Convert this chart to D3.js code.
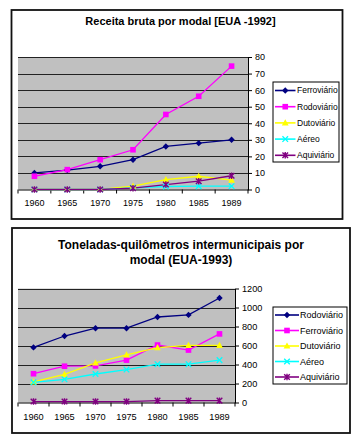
<!DOCTYPE html>
<html><head><meta charset="utf-8">
<script src="https://cdn.jsdelivr.net/npm/d3@7"></script>
<style>
body{margin:0;background:#fff;}
svg{display:block;font-family:Arial,"Liberation Sans",sans-serif;}
</style></head>
<body><svg id="c" width="364" height="442"></svg>
<script>
// ---------- Data ----------
const years = ["1960","1965","1970","1975","1980","1985","1989"];

// Chart 1: Receita bruta por modal [EUA -1992]
const c1Title = ["Receita bruta por modal [EUA -1992]"];
const c1Series = ["Ferroviário","Rodoviário","Dutoviário","Aéreo","Aquiviário"];
const c1Ferroviario = [10, 11.7, 14, 18, 26, 28, 30];
const c1Rodoviario  = [8, 12, 18, 24, 45.3, 56.3, 74.5];
const c1Dutoviario  = [0, 0, 0, 2, 6, 8, 5.7];
const c1Aereo       = [0, 0, 0, 1, 1.8, 2, 2];
const c1Aquiviario  = [0, 0, 0, 0.8, 3, 5, 8.3];
const c1Ticks = [0,10,20,30,40,50,60,70,80];

// Chart 2: Toneladas-quilômetros intermunicipais por modal (EUA-1993)
const c2Title = ["Toneladas-quilômetros intermunicipais por","modal (EUA-1993)"];
const c2Series = ["Rodoviário","Ferroviário","Dutoviário","Aéreo","Aquiviário"];
const c2Rodoviario  = [580, 700, 782, 782, 900, 922, 1100];
const c2Ferroviario = [303, 382, 385, 446, 605, 552, 722];
const c2Dutoviario  = [216, 297, 417, 502, 578, 602, 602];
const c2Aereo       = [212, 244, 300, 347, 403, 403, 446];
const c2Aquiviario  = [10, 10, 10, 10, 20, 20, 20];
const c2Ticks = [0,200,400,600,800,1000,1200];

const colors = ["#000080","#FF00FF","#FFFF00","#00FFFF","#800080"];
const markers = ["diamond","square","triangle","x","star"];

const svg = d3.select("#c");

function marker(g, type, color, x, y){
  if(type==="diamond"){
    g.append("path").attr("d",`M${x},${y-3.2}L${x+3.2},${y}L${x},${y+3.2}L${x-3.2},${y}Z`).attr("fill",color);
  } else if(type==="square"){
    g.append("rect").attr("x",x-2.8).attr("y",y-2.8).attr("width",5.6).attr("height",5.6).attr("fill",color);
  } else if(type==="triangle"){
    g.append("path").attr("d",`M${x},${y-3.6}L${x+3.4},${y+2.6}L${x-3.4},${y+2.6}Z`).attr("fill",color);
  } else if(type==="x"){
    g.append("path").attr("d",`M${x-2.8},${y-2.8}L${x+2.8},${y+2.8}M${x+2.8},${y-2.8}L${x-2.8},${y+2.8}`).attr("stroke",color).attr("stroke-width",1.3);
  } else {
    g.append("path").attr("d",`M${x-2.8},${y-2.8}L${x+2.8},${y+2.8}M${x+2.8},${y-2.8}L${x-2.8},${y+2.8}M${x},${y-3.2}L${x},${y+3.2}`).attr("stroke",color).attr("stroke-width",1.4);
  }
}

function drawChart(o){
  const g = svg.append("g");
  // frame
  g.append("rect").attr("x",o.frame[0]).attr("y",o.frame[1]).attr("width",o.frame[2]-o.frame[0]).attr("height",o.frame[3]-o.frame[1])
    .attr("fill","#fff").attr("stroke","#111").attr("stroke-width",1.8);
  // title
  o.title.forEach((t,i)=>{
    g.append("text").attr("x",o.titleX).attr("y",o.titleY+i*o.titleLH).attr("text-anchor","middle")
      .attr("font-weight","bold").attr("font-size",o.titleSize).attr("fill","#000").text(t);
  });
  const x = d3.scaleBand().domain(years).range([o.plot[0],o.plot[2]]);
  const y = d3.scaleLinear().domain([0,o.ticks[o.ticks.length-1]]).range([o.plot[3],o.plot[1]]);
  // plot bg
  g.append("rect").attr("x",o.plot[0]).attr("y",o.plot[1]).attr("width",o.plot[2]-o.plot[0]).attr("height",o.plot[3]-o.plot[1]).attr("fill","#C0C0C0");
  // gridlines
  g.selectAll(".grid").data(o.ticks.filter(t=>t>0)).enter().append("line")
    .attr("x1",o.plot[0]).attr("x2",o.plot[2]).attr("y1",d=>Math.round(y(d))+0.5).attr("y2",d=>Math.round(y(d))+0.5)
    .attr("stroke","#222").attr("stroke-width",1);
  // y axis right
  const ya = g.append("g").attr("transform",`translate(${o.plot[2]},0)`)
    .call(d3.axisRight(y).tickValues(o.ticks).tickFormat(d3.format("d")).tickSize(4).tickPadding(3).tickSizeOuter(0));
  ya.select(".domain").attr("stroke","#000");
  ya.selectAll("line").attr("stroke","#000");
  ya.selectAll("text").attr("font-size",o.tickSize).attr("font-family","Arial,'Liberation Sans',sans-serif").attr("fill","#000");
  // x axis bottom
  const xa = g.append("g").attr("transform",`translate(0,${o.plot[3]})`)
    .call(d3.axisBottom(x).tickSize(0).tickPadding(o.xPad));
  xa.select(".domain").attr("stroke","#000");
  xa.selectAll("text").attr("font-size",o.tickSize).attr("font-family","Arial,'Liberation Sans',sans-serif").attr("fill","#000");
  // boundary ticks
  const bounds = years.map(c=>x(c)).concat([o.plot[2]]);
  g.selectAll(".bt").data(bounds).enter().append("line")
    .attr("x1",d=>d).attr("x2",d=>d).attr("y1",o.plot[3]).attr("y2",o.plot[3]+4).attr("stroke","#000");
  // series
  const line = d3.line().x((d,i)=>x(years[i])+x.bandwidth()/2).y(d=>y(d));
  o.series.forEach((s,k)=>{
    g.append("path").attr("d",line(s)).attr("fill","none").attr("stroke",colors[k]).attr("stroke-width",1.3);
  });
  o.series.forEach((s,k)=>{
    s.forEach((v,i)=>marker(g,markers[k],colors[k],x(years[i])+x.bandwidth()/2,y(v)));
  });
  // legend
  const L = o.legend;
  g.append("rect").attr("x",L.x0).attr("y",L.y0).attr("width",L.x1-L.x0).attr("height",L.y1-L.y0)
    .attr("fill","#fff").attr("stroke","#000").attr("stroke-width",1);
  o.names.forEach((n,k)=>{
    const yy = L.first + k*L.step;
    g.append("line").attr("x1",L.lx0).attr("x2",L.lx1).attr("y1",yy).attr("y2",yy).attr("stroke",colors[k]).attr("stroke-width",1.6);
    marker(g,markers[k],colors[k],(L.lx0+L.lx1)/2,yy);
    g.append("text").attr("x",L.tx).attr("y",yy).attr("dy","0.35em").attr("font-size",L.fs).attr("fill","#000").text(n);
  });
}

drawChart({
  frame:[11.5,10,342.5,219],
  title:c1Title, titleX:180.5, titleY:25, titleLH:15, titleSize:11,
  plot:[18,57,248,189.5],
  ticks:c1Ticks, tickSize:9, xPad:10,
  series:[c1Ferroviario,c1Rodoviario,c1Dutoviario,c1Aereo,c1Aquiviario],
  names:c1Series,
  legend:{x0:273,y0:82,x1:339,y1:162,first:90.5,step:16.2,lx0:275,lx1:295.5,tx:297,fs:8.5}
});
drawChart({
  frame:[12,228,350,433],
  title:c2Title, titleX:181, titleY:249, titleLH:15, titleSize:12,
  plot:[18,288.5,235,402.5],
  ticks:c2Ticks, tickSize:9.2, xPad:11,
  series:[c2Rodoviario,c2Ferroviario,c2Dutoviario,c2Aereo,c2Aquiviario],
  names:c2Series,
  legend:{x0:273,y0:307,x1:347,y1:384,first:315,step:15.5,lx0:275,lx1:299,tx:300,fs:9}
});
</script></body></html>
